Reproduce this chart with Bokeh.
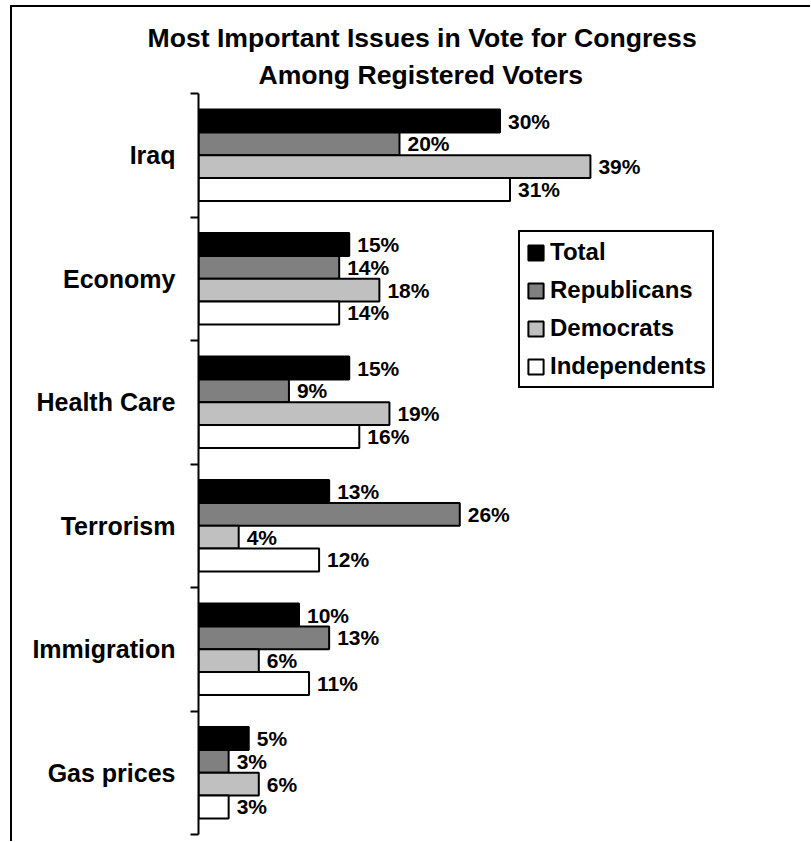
import numpy as np
from bokeh.plotting import figure
from bokeh.models import ColumnDataSource, FixedTicker, LabelSet, Title, Legend, LegendItem
from bokeh.core.properties import value
from bokeh.embed import file_html
from bokeh.resources import INLINE

# ---- data ----
categories = ["Iraq", "Economy", "Health Care", "Terrorism", "Immigration", "Gas prices"]
series_names = ["Total", "Republicans", "Democrats", "Independents"]
total = [30, 15, 15, 13, 10, 5]
republicans = [20, 14, 9, 26, 13, 3]
democrats = [39, 18, 19, 4, 6, 6]
independents = [31, 14, 16, 12, 11, 3]
title_lines = ["Most Important Issues in Vote for Congress", "Among Registered Voters"]

# ---- styles ----
series_values = [total, republicans, democrats, independents]
fills = ["#000000", "#808080", "#c0c0c0", "#ffffff"]
offsets = [0.277, 0.0925, -0.0925, -0.277]
FONT = "Liberation Sans"

n = len(categories)
centers = np.array([n - i - 0.5 for i in range(n)])

p = figure(width=800, height=836, x_range=(0, 60.9), y_range=(0, n),
           output_backend="svg", toolbar_location=None, x_axis_location=None,
           min_border_left=188, min_border_right=0, min_border_top=88, min_border_bottom=7)
p.margin = (5, 0, 0, 10)
p.styles = {"box-shadow": "inset 2px 2px 0 0 #000000"}
p.outline_line_color = None
p.grid.visible = False
p.background_fill_color = "white"
p.border_fill_alpha = 0

items = []
for name, vals, fc, off in zip(series_names, series_values, fills, offsets):
    src = ColumnDataSource(dict(y=centers + off, right=vals, label=[f"{v}%" for v in vals]))
    r = p.hbar(y="y", left=0, right="right", height=0.185, fill_color=fc,
               line_color="black", line_width=2, source=src)
    items.append(LegendItem(label=name, renderers=[r]))
    p.add_layout(LabelSet(x="right", y="y", text="label", x_offset=8, source=src,
                          text_baseline="middle", text_align="left",
                          text_font=value(FONT), text_font_style="bold",
                          text_font_size="21px", text_color="black"))

yax = p.yaxis[0]
yax.ticker = FixedTicker(ticks=list(centers), minor_ticks=list(range(n + 1)))
yax.major_label_overrides = {float(c): cat for c, cat in zip(centers, categories)}
yax.major_tick_out = 0
yax.major_tick_in = 0
yax.minor_tick_out = 8
yax.minor_tick_in = 0
yax.minor_tick_line_width = 2
yax.minor_tick_line_color = "black"
yax.axis_line_width = 2
yax.axis_line_color = "black"
yax.major_label_standoff = 15
yax.major_label_text_font = FONT
yax.major_label_text_font_style = "bold"
yax.major_label_text_font_size = "25px"
yax.major_label_text_color = "black"

legend = Legend(items=items, location=(320, 446), orientation="vertical",
                label_text_font=FONT, label_text_font_style="bold",
                label_text_font_size="24px", label_text_color="black",
                glyph_width=19, glyph_height=19, label_height=28, spacing=10,
                label_standoff=5, padding=6, margin=0,
                border_line_color="black", border_line_width=2, border_line_alpha=1,
                background_fill_color="white", background_fill_alpha=1)
p.add_layout(legend, "center")

# title: two lines centred near x=422 (second line added first so it sits nearest the plot)
p.add_layout(Title(text=title_lines[1], align="left", offset=60, standoff=8,
                   text_font=FONT, text_font_style="bold", text_font_size="26.6px",
                   text_color="black"), "above")
p.add_layout(Title(text=title_lines[0], align="left", offset=-51, standoff=2,
                   text_font=FONT, text_font_style="bold", text_font_size="26.6px",
                   text_color="black"), "above")

open("out.html", "w").write(file_html(p, INLINE))
